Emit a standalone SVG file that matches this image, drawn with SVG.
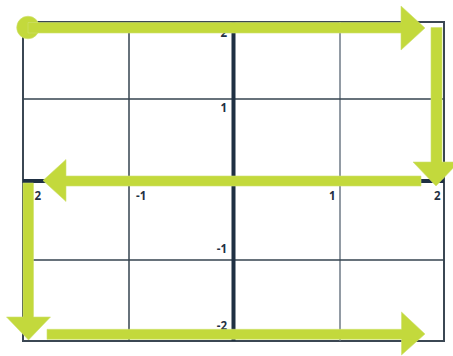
<svg xmlns="http://www.w3.org/2000/svg" width="453" height="356" viewBox="0 0 453 356">
<style>
.grid{stroke:#34434f;stroke-width:1.5;fill:none}
.gridl{stroke:#6e7a86;stroke-width:1.5;fill:none}
.border{stroke:#3b4753;stroke-width:2;fill:none}
.axis{stroke:#1f3043;stroke-width:4;fill:none}
.lbl{font-family:"Open Sans","Liberation Sans",sans-serif;font-weight:700;font-size:11.5px;fill:#1f3043}
.arr{fill:#c3d93c;stroke:#cfe170;stroke-width:0.6}
</style>
<rect width="453" height="356" fill="#ffffff"/>
<g id="grid">
<rect class="border" x="23" y="22" width="421" height="319"/>
<line class="grid" x1="129" y1="22" x2="129" y2="341"/>
<line class="gridl" x1="340" y1="22" x2="340" y2="341"/>
<line class="grid" x1="23" y1="99" x2="444" y2="99"/>
<line class="grid" x1="23" y1="260" x2="444" y2="260"/>
<line class="axis" x1="233.5" y1="22" x2="233.5" y2="341"/>
<line class="axis" x1="23" y1="181" x2="444" y2="181"/>
</g>
<g id="labels">
<text class="lbl" x="227" y="37" text-anchor="end">2</text>
<text class="lbl" x="227" y="112" text-anchor="end">1</text>
<text class="lbl" x="227" y="253" text-anchor="end">-1</text>
<text class="lbl" x="227" y="330" text-anchor="end">-2</text>
<text class="lbl" x="34.5" y="200">2</text>
<text class="lbl" x="136" y="200">-1</text>
<text class="lbl" x="335.5" y="200" text-anchor="end">1</text>
<text class="lbl" x="440.5" y="200" text-anchor="end">2</text>
</g>
<g id="connectors">
<g id="arrow1">
<circle class="arr" cx="28" cy="27.5" r="11.3"/>
<polygon class="arr" points="28,22.5 401,22.5 401,6 425,28 401,50 401,33 28,33"/>
</g>
<g id="arrow2">
<polygon class="arr" points="431,27.5 442,27.5 442,162 459,162 436,186 413,162 431,162"/>
</g>
<g id="arrow3">
<polygon class="arr" points="421,176 66,176 66,159.5 43,180.5 66,201.5 66,186 421,186"/>
</g>
<g id="arrow4">
<polygon class="arr" points="23,183 33.5,183 33.5,317 50.5,317 28.5,340 6.5,317 23,317"/>
</g>
<g id="arrow5">
<polygon class="arr" points="47,329.3 401.5,329.3 401.5,312 425,334 401.5,355 401.5,339.3 47,339.3"/>
</g>
</g>
</svg>
